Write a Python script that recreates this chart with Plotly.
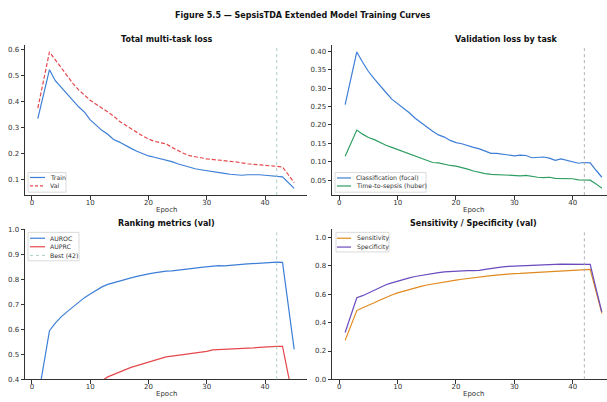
import plotly.graph_objects as go

epochs = list(range(1, 46))

train_loss = [0.335, 0.43, 0.522, 0.48, 0.455, 0.43, 0.405, 0.38, 0.36, 0.33,
              0.31, 0.29, 0.275, 0.255, 0.245, 0.232, 0.221, 0.21, 0.2, 0.192,
              0.187, 0.182, 0.176, 0.17, 0.162, 0.155, 0.148, 0.143, 0.139, 0.135,
              0.132, 0.128, 0.125, 0.122, 0.12, 0.118, 0.12, 0.121, 0.12, 0.118,
              0.116, 0.114, 0.112, 0.09, 0.068]
val_loss = [0.375, 0.48, 0.59, 0.56, 0.53, 0.5, 0.47, 0.445, 0.425, 0.405,
            0.39, 0.375, 0.36, 0.345, 0.325, 0.31, 0.295, 0.28, 0.268, 0.257,
            0.248, 0.243, 0.238, 0.225, 0.213, 0.202, 0.193, 0.19, 0.185, 0.181,
            0.178, 0.175, 0.172, 0.171, 0.169, 0.165, 0.162, 0.16, 0.158, 0.155,
            0.153, 0.151, 0.15, 0.12, 0.09]

cls_loss = [0.255, 0.33, 0.398, 0.37, 0.345, 0.325, 0.305, 0.288, 0.27, 0.258,
            0.245, 0.233, 0.218, 0.206, 0.195, 0.183, 0.173, 0.167, 0.158, 0.152,
            0.149, 0.143, 0.139, 0.135, 0.13, 0.123, 0.123, 0.121, 0.12, 0.116,
            0.118, 0.117, 0.111, 0.111, 0.113, 0.11, 0.104, 0.108, 0.104, 0.1,
            0.096, 0.098, 0.097, 0.077, 0.058]
tts_loss = [0.115, 0.15, 0.186, 0.175, 0.166, 0.16, 0.152, 0.145, 0.139, 0.133,
            0.127, 0.12, 0.115, 0.11, 0.103, 0.098, 0.097, 0.093, 0.09, 0.088,
            0.085, 0.08, 0.075, 0.071, 0.068, 0.066, 0.065, 0.064, 0.063, 0.063,
            0.062, 0.063, 0.06, 0.058, 0.057, 0.058, 0.055, 0.055, 0.055, 0.054,
            0.051, 0.051, 0.05, 0.04, 0.028]

auroc = [0.32, 0.46, 0.595, 0.625, 0.65, 0.67, 0.69, 0.71, 0.727, 0.742,
         0.757, 0.77, 0.78, 0.787, 0.795, 0.8, 0.806, 0.812, 0.818, 0.822,
         0.826, 0.83, 0.833, 0.834, 0.836, 0.838, 0.84, 0.845, 0.848, 0.851,
         0.854, 0.855, 0.854, 0.857, 0.859, 0.86, 0.862, 0.864, 0.866, 0.867,
         0.868, 0.869, 0.868, 0.69, 0.52]
auprc = [0.12, 0.18, 0.24, 0.27, 0.29, 0.31, 0.33, 0.345, 0.36, 0.372,
         0.383, 0.394, 0.41, 0.42, 0.43, 0.44, 0.448, 0.455, 0.462, 0.47,
         0.477, 0.485, 0.49, 0.493, 0.496, 0.498, 0.5, 0.505, 0.508, 0.512,
         0.518, 0.519, 0.52, 0.522, 0.521, 0.522, 0.524, 0.526, 0.528, 0.53,
         0.531, 0.532, 0.532, 0.43, 0.3]

sensitivity = [0.275, 0.38, 0.485, 0.505, 0.52, 0.54, 0.56, 0.58, 0.595, 0.61,
               0.622, 0.635, 0.645, 0.655, 0.665, 0.673, 0.68, 0.687, 0.693, 0.7,
               0.706, 0.712, 0.718, 0.722, 0.727, 0.731, 0.735, 0.74, 0.745, 0.746,
               0.747, 0.749, 0.75, 0.752, 0.755, 0.757, 0.76, 0.761, 0.762, 0.765,
               0.768, 0.77, 0.775, 0.62, 0.465]
specificity = [0.33, 0.45, 0.575, 0.59, 0.61, 0.63, 0.65, 0.667, 0.68, 0.693,
               0.705, 0.716, 0.725, 0.733, 0.74, 0.746, 0.752, 0.758, 0.761, 0.763,
               0.765, 0.766, 0.767, 0.768, 0.775, 0.782, 0.788, 0.793, 0.797, 0.798,
               0.8, 0.8, 0.802, 0.804, 0.806, 0.808, 0.81, 0.812, 0.811, 0.81,
               0.81, 0.81, 0.81, 0.64, 0.475]

best_epoch = 42

W, H = 607, 402
BLUE = "#3d7fd6"
RED = "#e5484d"
GREEN = "#2f9e62"
ORANGE = "#e08a1e"
PURPLE = "#6a4bbf"
BEST_C1 = "#9fcac1"
BEST_C2 = "#a8a8a8"
FONT = "DejaVu Sans"


def px_x(p):
    return p / W


def px_y(p):
    return 1 - p / H


fig = go.Figure()

L_X = (25, 307)
R_X = (332, 607)
T_Y = (42, 195)
B_Y = (230, 383)

axes = {
    1: (L_X, T_Y, [-1.2, 47.2], [0.042, 0.616], [0.1, 0.2, 0.3, 0.4, 0.5, 0.6],
        ["0.1", "0.2", "0.3", "0.4", "0.5", "0.6"]),
    2: (R_X, T_Y, [-1.25, 45.88], [0.0095, 0.4165], [0.05, 0.1, 0.15, 0.2, 0.25, 0.3, 0.35, 0.4],
        ["0.05", "0.10", "0.15", "0.20", "0.25", "0.30", "0.35", "0.40"]),
    3: (L_X, B_Y, [-1.2, 47.2], [0.4, 1.0], [0.4, 0.5, 0.6, 0.7, 0.8, 0.9, 1.0],
        ["0.4", "0.5", "0.6", "0.7", "0.8", "0.9", "1.0"]),
    4: (R_X, B_Y, [-1.25, 45.88], [0.0, 1.057], [0.0, 0.2, 0.4, 0.6, 0.8, 1.0],
        ["0.0", "0.2", "0.4", "0.6", "0.8", "1.0"]),
}

for i, (xd, yd, xr, yr, yt, ytt) in axes.items():
    s = "" if i == 1 else str(i)
    fig.layout["xaxis" + s] = dict(
        domain=[px_x(xd[0]), px_x(xd[1])], range=xr, anchor="y" + s,
        tickvals=[0, 10, 20, 30, 40], ticks="outside", ticklen=3.5, tickwidth=0.8,
        tickcolor="#333", showline=True, linecolor="#333", linewidth=0.9,
        showgrid=False, zeroline=False, ticklabelstandoff=-3,
        tickfont=dict(size=7, color="#333", family=FONT),
    )
    fig.layout["yaxis" + s] = dict(
        domain=[px_y(yd[1]), px_y(yd[0])], range=yr, anchor="x" + s,
        tickvals=yt, ticktext=ytt, ticks="outside", ticklen=3.5, tickwidth=0.8,
        tickcolor="#333", showline=True, linecolor="#333", linewidth=0.9,
        showgrid=False, zeroline=False, tickfont=dict(size=7, color="#333", family=FONT),
    )


def add(x, y, color, ax, dash="solid", width=1.2):
    s = "" if ax == 1 else str(ax)
    fig.add_trace(go.Scatter(
        x=x, y=y, mode="lines", line=dict(color=color, width=width, dash=dash),
        xaxis="x" + s, yaxis="y" + s, showlegend=False, cliponaxis=True,
    ))


add(epochs, train_loss, BLUE, 1)
add(epochs, val_loss, RED, 1, dash="4px,2px")
add(epochs, cls_loss, BLUE, 2)
add(epochs, tts_loss, GREEN, 2)
add(epochs, auroc, BLUE, 3)
add(epochs, auprc, RED, 3)
add(epochs, sensitivity, ORANGE, 4)
add(epochs, specificity, PURPLE, 4)

for ax, col in [(1, BEST_C1), (2, BEST_C2), (3, BEST_C1), (4, BEST_C2)]:
    s = "" if ax == 1 else str(ax)
    fig.add_shape(type="line", xref="x" + s, yref="y" + s + " domain",
                  x0=best_epoch, x1=best_epoch, y0=0, y1=1,
                  line=dict(color=col, width=0.9, dash="dot"))

# compact legends (matplotlib-like)
legends = [
    ((28, 172, 66, 192), (30, 45, 48), [177, 185.5],
     [("Train", BLUE, "solid"), ("Val", RED, "3px,2px")]),
    ((335, 172, 426, 192), (337, 351, 354), [177.5, 185.7],
     [("Classification (focal)", BLUE, "solid"), ("Time-to-sepsis (huber)", GREEN, "solid")]),
    ((28, 233, 79, 262), (30, 45, 48), [239, 247.7, 256.5],
     [("AUROC", BLUE, "solid"), ("AUPRC", RED, "solid"), ("Best (42)", BEST_C1, "dot")]),
    ((336, 233, 389, 253), (337, 351, 355), [239, 248],
     [("Sensitivity", ORANGE, "solid"), ("Specificity", PURPLE, "solid")]),
]
for (bx0, by0, bx1, by1), (lx0, lx1, tx), rows, items in legends:
    fig.add_shape(type="rect", xref="paper", yref="paper",
                  x0=px_x(bx0), x1=px_x(bx1), y0=px_y(by1), y1=px_y(by0),
                  line=dict(color="#d0d0d0", width=0.8), fillcolor="rgba(255,255,255,0.85)",
                  layer="above")
    for ry, (label, col, dash) in zip(rows, items):
        fig.add_shape(type="line", xref="paper", yref="paper",
                      x0=px_x(lx0), x1=px_x(lx1), y0=px_y(ry), y1=px_y(ry),
                      line=dict(color=col, width=1.2 if dash != "dot" else 0.9, dash=dash),
                      layer="above")
        fig.add_annotation(text=label, x=px_x(tx), y=px_y(ry), xref="paper", yref="paper",
                           showarrow=False, xanchor="left", yanchor="middle",
                           font=dict(size=6.2, color="#333", family=FONT))

texts = [
    ("<b>Figure 5.5 — SepsisTDA Extended Model Training Curves</b>", 303, 12, 8),
    ("<b>Total multi-task loss</b>", 166, 36, 8),
    ("<b>Validation loss by task</b>", 506, 36, 8),
    ("<b>Ranking metrics (val)</b>", 166, 224, 8),
    ("<b>Sensitivity / Specificity (val)</b>", 473, 224, 8),
    ("Epoch", 166, 210, 7),
    ("Epoch", 473, 210, 7),
    ("Epoch", 166, 397.5, 7),
    ("Epoch", 473, 397.5, 7),
]
for t, x, y, sz in texts:
    fig.add_annotation(text=t, x=px_x(x), y=px_y(y), xref="paper", yref="paper",
                       showarrow=False, xanchor="center", yanchor="middle",
                       font=dict(size=sz, color="#111" if sz == 8 else "#333", family=FONT))

fig.update_layout(width=W, height=H, margin=dict(l=0, r=0, t=0, b=0),
                  paper_bgcolor="white", plot_bgcolor="white")

fig.write_html("out.html", config={"displayModeBar": False},
               post_script="document.body.style.margin='0';document.body.style.overflow='hidden';")
